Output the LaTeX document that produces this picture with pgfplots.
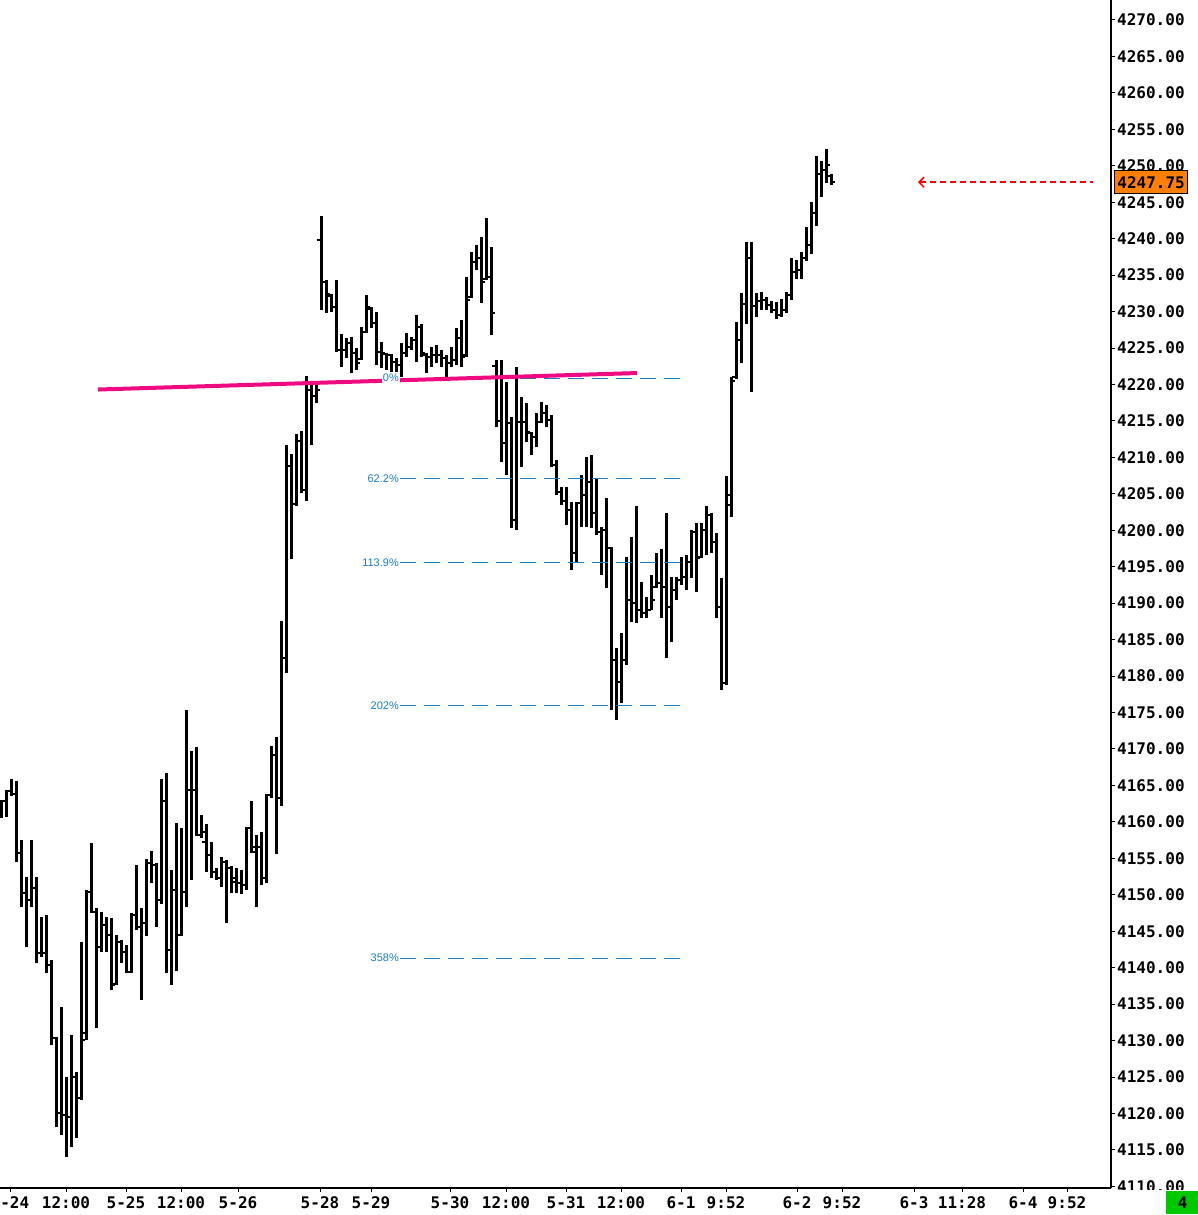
\documentclass[border=0pt]{standalone}
\usepackage{pgfplots}
\pgfplotsset{compat=1.18}
\usepackage{pgfplotstable}
\usepackage{fontspec}
\setmainfont{Liberation Sans}
\newfontfamily\monofont{DejaVu Sans Mono}
\usetikzlibrary{arrows.meta}
\definecolor{pinkc}{RGB}{240,10,130}
\definecolor{fibc}{RGB}{30,125,195}
\definecolor{orangec}{RGB}{255,128,0}
\definecolor{greenc}{RGB}{0,200,0}
\pgfdeclareplotmark{otick}{\pgfpathmoveto{\pgfqpoint{-4.3pt}{0pt}}\pgfpathlineto{\pgfqpoint{0pt}{0pt}}\pgfusepathqstroke}
\pgfdeclareplotmark{ctick}{\pgfpathmoveto{\pgfqpoint{0pt}{0pt}}\pgfpathlineto{\pgfqpoint{4.3pt}{0pt}}\pgfusepathqstroke}
\pgfplotstableread{
i o h l c
0 4161.50 4163.00 4160.53 4162.86
1 4162.86 4164.37 4160.67 4164.24
2 4164.24 4165.88 4163.55 4163.82
3 4163.82 4165.61 4154.50 4155.73
4 4155.73 4157.51 4148.32 4150.24
5 4150.24 4152.44 4142.84 4149.28
6 4149.28 4157.51 4148.32 4150.93
7 4150.93 4152.44 4140.64 4142.01
8 4142.01 4146.95 4141.46 4142.01
9 4142.01 4147.23 4139.27 4140.37
10 4140.37 4141.05 4129.39 4130.35
11 4130.35 4130.49 4118.14 4120.07
12 4120.07 4134.61 4117.05 4119.79
13 4119.79 4125.00 4114.03 4119.52
14 4119.52 4130.76 4115.40 4125.00
15 4125.00 4125.69 4116.64 4122.12
16 4122.12 4143.52 4121.85 4130.08
17 4131.00 4150.66 4130.08 4150.40
18 4150.40 4157.10 4147.50 4147.70
19 4147.70 4148.19 4131.73 4142.84
20 4142.84 4147.64 4142.15 4145.85
21 4145.85 4146.95 4142.15 4144.48
22 4144.48 4146.81 4136.94 4137.62
23 4137.80 4144.48 4137.62 4143.52
24 4143.52 4143.80 4140.64 4142.15
25 4142.15 4143.11 4139.27 4139.41
26 4139.41 4147.50 4139.27 4147.23
27 4147.23 4154.08 4145.17 4145.58
28 4145.58 4148.19 4135.57 4146.13
29 4146.13 4154.91 4144.35 4154.36
30 4154.36 4156.00 4151.62 4154.08
31 4154.08 4154.36 4145.58 4149.28
32 4149.28 4165.88 4148.73 4162.86
33 4162.86 4166.70 4139.27 4142.42
34 4142.42 4153.40 4137.62 4150.66
35 4150.66 4159.85 4139.54 4144.48
36 4144.48 4159.16 4144.35 4150.38
37 4150.38 4175.35 4148.32 4164.37
38 4164.37 4169.72 4152.03 4164.37
39 4164.37 4170.27 4158.06 4158.20
40 4158.20 4160.94 4157.79 4158.61
41 4157.24 4159.71 4153.12 4155.46
42 4155.46 4157.24 4152.30 4153.12
43 4153.12 4153.67 4152.03 4152.30
44 4152.30 4155.18 4151.07 4154.50
45 4154.50 4154.77 4146.13 4153.67
46 4153.67 4153.95 4150.24 4152.30
47 4151.80 4153.67 4150.24 4151.60
48 4151.60 4153.40 4150.11 4151.34
49 4151.34 4159.30 4150.66 4159.16
50 4159.16 4162.86 4155.73 4155.87
51 4156.55 4158.20 4148.32 4156.55
52 4156.55 4158.61 4151.34 4152.30
53 4152.30 4163.82 4151.62 4163.69
54 4163.69 4170.41 4163.28 4169.17
55 4169.17 4171.64 4155.59 4163.28
56 4163.28 4187.56 4162.18 4182.48
57 4182.48 4211.70 4180.42 4208.82
58 4208.82 4210.46 4196.06 4203.60
59 4203.60 4213.21 4203.33 4212.25
60 4212.25 4213.62 4205.11 4205.52
61 4205.52 4221.16 4204.02 4219.24
62 4219.24 4220.20 4211.70 4218.42
63 4218.42 4219.93 4217.46 4219.24
64 4239.82 4243.11 4230.22 4234.06
65 4234.06 4234.33 4229.80 4232.41
66 4232.20 4232.41 4229.94 4230.63
67 4230.63 4234.33 4224.45 4224.73
68 4224.73 4226.92 4222.40 4224.73
69 4224.73 4226.37 4223.63 4225.69
70 4225.69 4226.51 4221.57 4224.32
71 4224.32 4225.00 4221.99 4222.95
72 4223.50 4227.88 4223.36 4227.20
73 4227.20 4232.27 4227.06 4230.63
74 4230.40 4230.63 4227.75 4228.43
75 4228.43 4229.94 4222.67 4224.45
76 4224.45 4225.83 4222.26 4224.32
77 4224.20 4224.32 4221.99 4224.04
78 4224.04 4224.18 4221.71 4223.08
79 4223.08 4223.63 4221.71 4222.67
80 4222.67 4225.69 4221.02 4224.32
81 4224.32 4227.06 4223.77 4225.14
82 4225.14 4226.51 4224.73 4226.10
83 4226.10 4229.53 4223.08 4227.88
84 4227.88 4228.30 4223.77 4224.32
85 4224.10 4224.32 4221.57 4223.77
86 4223.77 4225.14 4222.40 4224.04
87 4224.04 4225.41 4222.95 4224.04
88 4224.04 4224.73 4222.40 4223.63
89 4223.63 4224.04 4221.02 4222.95
90 4222.95 4225.14 4222.40 4223.36
91 4223.36 4227.75 4222.67 4226.37
92 4226.37 4228.84 4222.40 4223.77
93 4224.00 4234.74 4223.77 4231.59
94 4232.00 4238.17 4231.86 4236.80
95 4236.80 4239.13 4235.70 4237.35
96 4237.35 4240.23 4231.18 4234.00
97 4234.50 4242.84 4234.33 4234.74
98 4234.74 4238.86 4226.79 4229.80
99 4222.50 4223.36 4214.17 4215.00
100 4215.00 4223.36 4209.37 4212.00
101 4212.00 4220.34 4207.58 4214.72
102 4214.72 4215.54 4200.31 4201.41
103 4201.41 4222.40 4200.04 4214.85
104 4214.85 4218.28 4208.68 4214.85
105 4214.85 4217.46 4212.11 4213.50
106 4213.30 4213.48 4210.33 4212.79
107 4212.79 4216.09 4211.42 4214.85
108 4214.85 4217.60 4214.72 4216.09
109 4216.09 4217.18 4214.17 4215.13
110 4215.13 4215.81 4208.68 4208.90
111 4208.90 4209.64 4204.84 4205.25
112 4205.25 4205.94 4203.47 4204.00
113 4204.00 4205.94 4200.72 4202.78
114 4202.78 4203.88 4194.55 4196.88
115 4196.88 4203.88 4195.51 4203.74
116 4203.74 4207.58 4200.45 4204.84
117 4204.84 4210.05 4200.45 4206.62
118 4206.62 4210.33 4200.31 4202.37
119 4202.37 4207.17 4199.35 4199.76
120 4199.76 4200.45 4193.86 4200.04
121 4200.04 4204.43 4192.08 4197.57
122 4197.57 4197.71 4175.35 4182.21
123 4182.21 4183.85 4173.97 4179.19
124 4179.19 4185.91 4176.31 4182.21
125 4182.21 4196.33 4181.52 4190.44
126 4190.44 4199.08 4187.42 4190.02
127 4190.02 4203.33 4187.28 4189.00
128 4189.00 4192.91 4187.97 4188.65
129 4188.65 4190.85 4187.97 4189.06
130 4189.06 4193.86 4189.06 4190.44
131 4192.20 4196.88 4192.08 4192.77
132 4192.77 4197.43 4187.97 4192.22
133 4192.22 4202.37 4182.48 4189.48
134 4189.48 4193.59 4184.67 4191.81
135 4191.81 4193.59 4190.44 4193.18
136 4193.18 4196.33 4192.49 4193.59
137 4193.59 4196.61 4191.81 4195.65
138 4195.65 4200.04 4193.45 4199.70
139 4199.70 4201.00 4191.53 4196.20
140 4196.40 4201.00 4196.20 4200.04
141 4200.04 4203.33 4196.61 4202.10
142 4202.10 4202.37 4196.88 4198.39
143 4198.39 4199.63 4187.97 4189.50
144 4189.50 4193.45 4178.09 4179.05
145 4179.05 4207.44 4178.78 4204.84
146 4203.50 4221.02 4201.82 4220.48
147 4221.00 4228.57 4220.75 4226.10
148 4226.10 4232.55 4222.95 4231.04
149 4231.04 4239.54 4228.30 4237.35
150 4237.35 4239.54 4218.97 4230.76
151 4230.76 4232.55 4229.26 4231.50
152 4231.50 4232.69 4230.22 4231.59
153 4231.59 4232.00 4230.22 4230.90
154 4230.90 4231.45 4229.80 4230.22
155 4230.22 4231.31 4228.98 4229.53
156 4229.53 4231.72 4229.26 4230.22
157 4230.22 4232.69 4229.80 4232.27
158 4232.27 4237.35 4231.59 4235.43
159 4235.43 4237.07 4234.47 4235.70
160 4235.70 4238.17 4234.47 4237.35
161 4237.35 4241.60 4236.94 4239.13
162 4239.13 4245.03 4237.90 4243.52
163 4243.52 4251.34 4241.74 4248.87
164 4248.87 4250.65 4245.72 4249.42
165 4249.42 4252.30 4247.64 4250.11
166 4248.60 4248.87 4247.36 4247.75
}\ohlc
\begin{document}
\begin{tikzpicture}
\useasboundingbox (0pt,-27pt) rectangle (1197pt,1188pt);
\begin{axis}[
  at={(0pt,0pt)}, anchor=south west,
  scale only axis, width=1111pt, height=1188pt,
  xmin=-0.2, xmax=222.0, ymin=4109.78, ymax=4272.74,
  axis x line*=bottom, axis y line*=right,
  axis line style={black, line width=1.2pt},
  tick style={black, line width=1pt},
  tick align=outside, major tick length=4pt,
  scaled y ticks=false,
  ytick={4110,4115,...,4270},
  yticklabel style={font=\monofont\bfseries\fontsize{16}{18}\selectfont, anchor=west, inner sep=0pt, xshift=2pt,
    /pgf/number format/fixed, /pgf/number format/fixed zerofill,
    /pgf/number format/precision=2, /pgf/number format/1000 sep={},
    /pgf/number format/assume math mode=true},
  xtick={1.8,13.0,25.0,36.0,47.4,63.8,74.0,89.8,101.0,113.0,124.0,136.0,145.0,159.2,168.2,182.6,192.2,204.4,213.2},
  xticklabels={5-24,12:00,5-25,12:00,5-26,5-28,5-29,5-30,12:00,5-31,12:00,6-1,9:52,6-2,9:52,6-3,11:28,6-4,9:52},
  xticklabel style={font=\monofont\bfseries\fontsize{16}{18}\selectfont, anchor=north, inner sep=0pt, yshift=-4pt},
]
% vertical high-low lines
\addplot[draw=none, mark=none, forget plot,
  error bars/.cd, y dir=plus, y explicit, error mark=none,
  error bar style={draw=black, solid, line width=3pt}]
  table[x=i, y=l, y error expr=\thisrow{h}-\thisrow{l}] {\ohlc};
% open ticks
\addplot[only marks, mark=otick, mark options={draw=black, solid, line width=2pt}] table[x=i, y=o] {\ohlc};
% close ticks
\addplot[only marks, mark=ctick, mark options={draw=black, solid, line width=2pt}] table[x=i, y=c] {\ohlc};
% fibonacci levels
\addplot[fibc, line width=1pt, dash pattern=on 16pt off 8pt] coordinates {(79.8,4220.88) (135.8,4220.88)};
\addplot[fibc, line width=1pt, dash pattern=on 16pt off 8pt] coordinates {(79.8,4207.06) (135.8,4207.06)};
\addplot[fibc, line width=1pt, dash pattern=on 16pt off 8pt] coordinates {(79.8,4195.57) (135.8,4195.57)};
\addplot[fibc, line width=1pt, dash pattern=on 16pt off 8pt] coordinates {(79.8,4175.99) (135.8,4175.99)};
\addplot[fibc, line width=1pt, dash pattern=on 16pt off 8pt] coordinates {(79.8,4141.32) (135.8,4141.32)};
% trend line
\addplot[pinkc, line width=4pt] coordinates {(19.4,4219.31) (127.2,4221.57)};
% last price arrow
\addplot[red, line width=1.8pt, dash pattern=on 6pt off 4pt,
  {Straight Barb[length=5pt,width=10pt,line width=1.5pt]}-] coordinates {(183.4,4247.75) (218.4,4247.75)};
\begin{scope}[every node/.style={font=\fontsize{11}{13}\selectfont, text=fibc, inner sep=1pt, anchor=east}]
\node[fill=white] at (axis cs:79.8,4220.88) {0\%};
\node at (axis cs:79.8,4207.06) {62.2\%};
\node at (axis cs:79.8,4195.57) {113.9\%};
\node at (axis cs:79.8,4175.99) {202\%};
\node at (axis cs:79.8,4141.32) {358\%};
\end{scope}
\coordinate (lastp) at (axis cs:222.0,4247.75);
\end{axis}
\fill[white] (1112.5pt,-30pt) rectangle (1200pt,-1.8pt);
\node[fill=orangec, draw=black, line width=1.2pt, anchor=west, minimum width=73pt, minimum height=23pt, inner sep=0pt,
  font=\monofont\bfseries\fontsize{16}{18}\selectfont] at ([xshift=3pt]lastp) {4247.75};
\node[fill=greenc, anchor=north west, minimum width=33pt, minimum height=23pt, inner sep=0pt,
  font=\monofont\bfseries\fontsize{16}{18}\selectfont] at (1166pt,-3pt) {4};
\end{tikzpicture}
\end{document}
